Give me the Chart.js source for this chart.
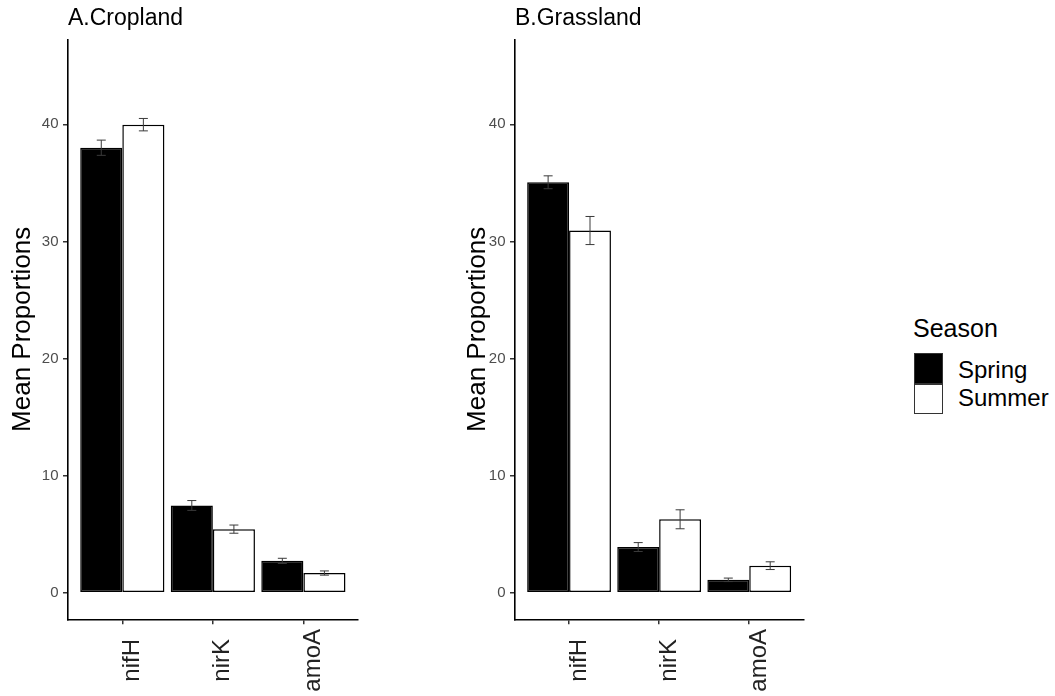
<!DOCTYPE html>
<html>
<head>
<meta charset="utf-8">
<script src="https://cdn.jsdelivr.net/npm/chart.js@4.4.1/dist/chart.umd.min.js"></script>
<style>
  html, body { margin: 0; padding: 0; background: #fff; }
  body { width: 1055px; height: 696px; position: relative; overflow: hidden; font-family: "Liberation Sans", Arial, sans-serif; }
  .panel { position: absolute; top: 0; height: 696px; }
  .legend-title { position: absolute; left: 913px; top: 314px; font-size: 25px; line-height: 28px; color: #000; }
  .key { position: absolute; left: 914px; width: 29px; box-sizing: border-box; border: 1.5px solid #333; }
  .key-label { position: absolute; left: 958px; font-size: 24px; line-height: 28px; color: #000; }
</style>
</head>
<body>
<div class="panel" id="p1" style="left:0;width:370px;"><canvas id="c1"></canvas></div>
<div class="panel" id="p2" style="left:455px;width:360px;"><canvas id="c2"></canvas></div>
<div id="legend"></div>
<script>
// ---- data ----
const categories = ['nifH', 'nirK', 'amoA'];
const seasons = ['Spring', 'Summer'];
const croplandSpring = [38.0, 7.45, 2.72];
const croplandSpringErr = [0.65, 0.42, 0.22];
const croplandSummer = [39.97, 5.43, 1.68];
const croplandSummerErr = [0.53, 0.35, 0.18];
const grasslandSpring = [35.05, 3.9, 1.1];
const grasslandSpringErr = [0.55, 0.38, 0.15];
const grasslandSummer = [30.93, 6.27, 2.31];
const grasslandSummerErr = [1.2, 0.81, 0.33];
const yTicks = [0, 10, 20, 30, 40];
const panelTitles = ['A.Cropland', 'B.Grassland'];
const yTitle = 'Mean Proportions';

const seasonFill = ['#000000', '#ffffff'];
const FONT = '"Liberation Sans", Arial, sans-serif';

// legend (HTML)
(function () {
  const lg = document.getElementById('legend');
  const t = document.createElement('div');
  t.className = 'legend-title'; t.textContent = 'Season'; lg.appendChild(t);
  const tops = [353, 384];
  const labelTops = [356, 384];
  seasons.forEach((s, i) => {
    const k = document.createElement('div');
    k.className = 'key';
    k.style.top = tops[i] + 'px';
    k.style.height = (i === 0 ? 31 : 30) + 'px';
    k.style.background = seasonFill[i];
    lg.appendChild(k);
    const l = document.createElement('div');
    l.className = 'key-label'; l.textContent = s;
    l.style.top = labelTops[i] + 'px';
    lg.appendChild(l);
  });
})();

const errorBarPlugin = {
  id: 'errorBars',
  afterDatasetsDraw(chart) {
    const ctx = chart.ctx;
    const y = chart.scales.y;
    ctx.save();
    ctx.strokeStyle = '#3a3a3a';
    ctx.lineWidth = 1;
    chart.data.datasets.forEach((ds, di) => {
      const meta = chart.getDatasetMeta(di);
      meta.data.forEach((bar, i) => {
        const v = ds.data[i].y, e = ds.errors[i];
        const x = bar.x;
        const yt = y.getPixelForValue(v + e), yb = y.getPixelForValue(v - e);
        const cap = 4.5;
        ctx.beginPath();
        ctx.moveTo(x, yt); ctx.lineTo(x, yb);
        ctx.moveTo(x - cap, yt); ctx.lineTo(x + cap, yt);
        ctx.moveTo(x - cap, yb); ctx.lineTo(x + cap, yb);
        ctx.stroke();
      });
    });
    ctx.restore();
  }
};

// panel title + centred rotated category labels
const textPlugin = {
  id: 'panelText',
  afterDraw(chart, args, opts) {
    const ctx = chart.ctx;
    ctx.save();
    ctx.font = '23px ' + FONT;
    ctx.fillStyle = '#000';
    ctx.textAlign = 'left';
    ctx.textBaseline = 'alphabetic';
    ctx.fillText(opts.text, chart.chartArea.left, 25);
    const xs = chart.scales.x;
    ctx.font = '24px ' + FONT;
    ctx.fillStyle = '#222';
    ctx.textAlign = 'center';
    ctx.textBaseline = 'middle';
    categories.forEach((c, i) => {
      const px = xs.getPixelForValue(i + 1) + 10;
      const py = chart.chartArea.bottom + 41;
      ctx.save();
      ctx.translate(px, py);
      ctx.rotate(-Math.PI / 2);
      ctx.fillText(c, 0, 0);
      ctx.restore();
    });
    ctx.restore();
  }
};

function makeChart(canvasId, title, spring, springErr, summer, summerErr, padRight) {
  const toPts = arr => arr.map((v, i) => ({ x: i + 1, y: v }));
  return new Chart(document.getElementById(canvasId), {
    type: 'bar',
    data: {
      datasets: [
        { label: seasons[0], data: toPts(spring), errors: springErr,
          backgroundColor: seasonFill[0], borderColor: '#000', borderWidth: 1.5, borderSkipped: false,
          categoryPercentage: 0.93, barPercentage: 1.0 },
        { label: seasons[1], data: toPts(summer), errors: summerErr,
          backgroundColor: seasonFill[1], borderColor: '#000', borderWidth: 1.5, borderSkipped: false,
          categoryPercentage: 0.93, barPercentage: 1.0 }
      ]
    },
    plugins: [errorBarPlugin, textPlugin],
    options: {
      responsive: true,
      maintainAspectRatio: false,
      animation: false,
      layout: { padding: { top: 39.3, right: padRight, left: 0, bottom: 0 } },
      plugins: {
        legend: { display: false },
        tooltip: { enabled: false },
        panelText: { text: title }
      },
      scales: {
        x: {
          type: 'linear',
          offset: false,
          min: 0.4, max: 3.6,
          afterBuildTicks: s => { s.ticks = categories.map((c, i) => ({ value: i + 1 })); },
          afterFit: s => { s.height = 76.7; },
          ticks: { display: false },
          grid: { display: true, drawOnChartArea: false, drawTicks: true, tickLength: 5, color: '#333', lineWidth: 1.5, offset: false },
          border: { display: true, color: '#000', width: 1.6 }
        },
        y: {
          min: -2.27, max: 47.26,
          afterBuildTicks: s => { s.ticks = yTicks.map(v => ({ value: v })); },
          afterFit: s => { s.width = canvasId === 'c1' ? 68 : 60; },
          ticks: {
            padding: 4.5,
            color: '#4d4d4d',
            font: { family: FONT, size: 15 }
          },
          title: {
            display: true, text: yTitle, color: '#000',
            font: { family: FONT, size: 26 },
            padding: { top: 7.6, bottom: 0 }
          },
          grid: { display: true, drawOnChartArea: false, drawTicks: true, tickLength: 5, color: '#333', lineWidth: 1.5 },
          border: { display: true, color: '#000', width: 1.6 }
        }
      }
    }
  });
}

makeChart('c1', panelTitles[0], croplandSpring, croplandSpringErr, croplandSummer, croplandSummerErr, 12.3);
makeChart('c2', panelTitles[1], grasslandSpring, grasslandSpringErr, grasslandSummer, grasslandSummerErr, 11.7);
</script>
</body>
</html>
